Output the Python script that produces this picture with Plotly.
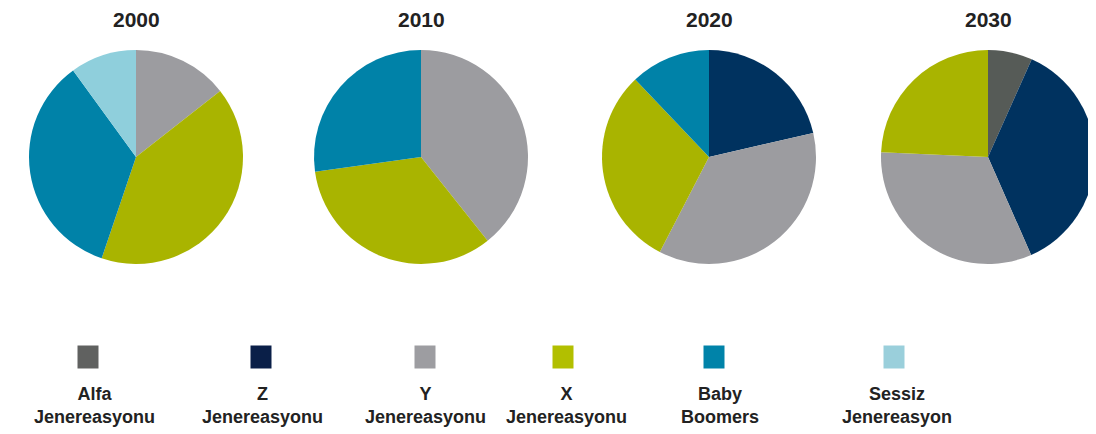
import plotly.graph_objects as go

# ---- data ----
years = ["2000", "2010", "2020", "2030"]
generations = ["Alfa Jenereasyonu", "Z Jenereasyonu", "Y Jenereasyonu",
               "X Jenereasyonu", "Baby Boomers", "Sessiz Jenereasyon"]
legend_labels = ["Alfa<br>Jenereasyonu", "Z<br>Jenereasyonu", "Y<br>Jenereasyonu",
                 "X<br>Jenereasyonu", "Baby<br>Boomers", "Sessiz<br>Jenereasyon"]
# shares (%) in clockwise order starting at 12 o'clock, per generation
share_2000 = [0, 0, 14.4, 40.8, 34.8, 10.0]
share_2010 = [0, 0, 39.3, 33.5, 27.2, 0]
share_2020 = [0, 21.4, 36.2, 30.3, 12.1, 0]
share_2030 = [6.7, 36.7, 32.3, 24.3, 0, 0]
shares = [share_2000, share_2010, share_2020, share_2030]

# ---- styles ----
pie_colors = ["#565b57", "#00325f", "#9c9ca0", "#a9b400", "#0082a8", "#8fcfdc"]
legend_colors = ["#606160", "#0a1f48", "#9d9da1", "#b2bf00", "#0083a9", "#9acfdb"]

OFF = 8  # page body margin
W, H = 1096 - OFF, 434 - OFF
pie_cx = [136, 421, 709, 988]
pie_cy = 157
pie_r = 107
legend_sq_x = [88, 261, 425, 563, 714, 894]
legend_txt_x = [94, 262, 425, 566, 720, 897]


def px(x):
    return (x - OFF) / W


def py(y):
    return 1 - (y - OFF) / H


fig = go.Figure()
for i, (yr, vals) in enumerate(zip(years, shares)):
    labs = [g for g, v in zip(generations, vals) if v > 0]
    vs = [v for v in vals if v > 0]
    cols = [c for c, v in zip(pie_colors, vals) if v > 0]
    cx = pie_cx[i]
    fig.add_trace(go.Pie(
        labels=labs, values=vs, sort=False, direction="clockwise", rotation=0,
        marker=dict(colors=cols, line=dict(width=0)),
        textinfo="none", showlegend=False, name=yr,
        domain=dict(x=[max(0, px(cx - pie_r)), min(1, px(cx + pie_r))],
                    y=[py(pie_cy + pie_r), py(pie_cy - pie_r)]),
    ))
    fig.add_annotation(text="<b>" + yr + "</b>", x=px(cx), y=py(20),
                       xref="paper", yref="paper", showarrow=False,
                       xanchor="center", yanchor="middle",
                       font=dict(family="Liberation Sans, Arial", size=21, color="#222222"))

sq_w, sq_h = 21, 23
sq_cy = 357
for lab, col, sx, tx in zip(legend_labels, legend_colors, legend_sq_x, legend_txt_x):
    fig.add_shape(type="rect", xref="paper", yref="paper",
                  x0=px(sx - sq_w / 2), x1=px(sx + sq_w / 2),
                  y0=py(sq_cy + sq_h / 2), y1=py(sq_cy - sq_h / 2),
                  fillcolor=col, line=dict(width=0))
    fig.add_annotation(text="<b>" + lab + "</b>", x=px(tx), y=py(405),
                       xref="paper", yref="paper", showarrow=False,
                       xanchor="center", yanchor="middle", align="center",
                       font=dict(family="Liberation Sans, Arial", size=18, color="#222222"))

fig.update_layout(width=W, height=H, margin=dict(l=0, r=0, t=0, b=0),
                  paper_bgcolor="white", plot_bgcolor="white")
fig.write_html("out.html")
